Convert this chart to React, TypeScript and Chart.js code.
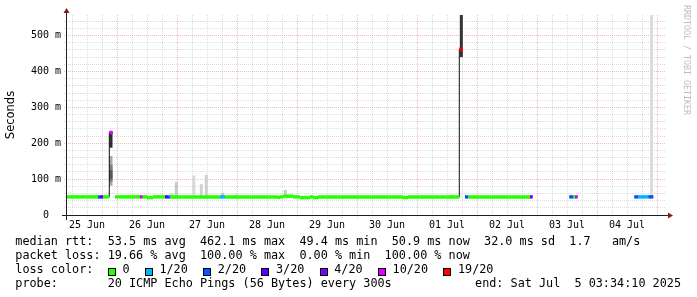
import React, { useEffect, useRef } from 'react';
import { Chart, registerables } from 'chart.js';

Chart.register(...registerables);

// ---- time axis (hours since 25 Jun 00:00) ----
const startHour = 3.57; // Jun 25 03:34
const endHour = 243.57; // Jul 5 03:34
const dayLabels = ['25 Jun', '26 Jun', '27 Jun', '28 Jun', '29 Jun', '30 Jun', '01 Jul', '02 Jul', '03 Jul', '04 Jul'];

// ---- value axis (milliseconds) ----
const yMax = 557.5;
const yTickValues = [0, 100, 200, 300, 400, 500];
const yTickLabels = ['0  ', '100 m', '200 m', '300 m', '400 m', '500 m'];

// ---- loss colours ----
const lossLabels = ['0', '1/20', '2/20', '3/20', '4/20', '10/20', '19/20'];
const lossColors = ['#26ff00', '#00b8ff', '#0059ff', '#5e00ff', '#7e00ff', '#dd00ff', '#ff0000'];

// ---- median rtt segments (hours, ms, loss level index) ----
const medianStart = [3.57, 16.37, 17.17, 18.37, 20.89, 23.17, 33.17, 34.25, 35.97, 38.37, 43.17, 44.37, 45.17, 65.17, 67.17, 88.37, 89.0, 90.37, 94.37, 97.17, 101.17, 102.37, 104.37, 138.37, 140.37, 160.89, 163.17, 164.49, 189.17, 204.89, 206.49, 207.17, 230.89, 232.49, 236.49];
const medianEnd = [16.37, 17.17, 18.37, 20.89, 22.25, 33.17, 34.25, 35.97, 38.37, 43.17, 44.37, 45.17, 65.17, 67.17, 88.37, 89.0, 90.37, 94.37, 97.17, 101.17, 102.37, 104.37, 138.37, 140.37, 160.89, 162.25, 164.49, 189.17, 190.25, 206.49, 207.17, 208.25, 232.49, 236.49, 238.49];
const medianMs = [50.5, 50.5, 50.5, 50.5, 230, 50.5, 50.5, 50.5, 48.5, 50.5, 50.5, 50.5, 50.5, 50.5, 50.5, 48.5, 50.5, 52.5, 50.5, 48.5, 50.5, 48.5, 50.5, 48.5, 50.5, 462.1, 50.5, 50.5, 50.5, 50.5, 50.5, 50.5, 50.5, 50.5, 50.5];
const medianLoss = [0, 2, 3, 0, 5, 0, 5, 0, 0, 0, 3, 2, 0, 1, 0, 0, 0, 0, 0, 0, 0, 0, 0, 0, 0, 6, 2, 0, 4, 2, 0, 5, 2, 1, 2];

// ---- smoke (ping spread) columns ----
const smokeHour = [21.57, 21.57, 21.57, 21.57, 45.7, 47.7, 54.7, 57.7, 59.7, 66.2, 71.6, 91.3, 157.7, 161.7, 237.8];
const smokeLow = [81.7, 92, 100, 187.6, 50, 50, 50, 50, 50, 50, 50, 50, 50, 440, 52];
const smokeHigh = [164.5, 140, 125, 230.6, 61, 92, 110, 86, 112, 62, 58, 70, 56, 557.5, 557.5];
const smokeShade = ['#a8a8a8', '#808080', '#5a5a5a', '#2e2e2e', '#d4d4d4', '#c8c8c8', '#d8d8d8', '#d0d0d0', '#d0d0d0', '#c4c4c4', '#dcdcdc', '#c8c8c8', '#bbbbbb', '#333333', '#dcdcdc'];

// ---- legend texts ----
const statsLine = 'median rtt:  53.5 ms avg  462.1 ms max  49.4 ms min  50.9 ms now  32.0 ms sd  1.7   am/s';
const lossLine = 'packet loss: 19.66 % avg  100.00 % max  0.00 % min  100.00 % now';
const colorTitle = 'loss color:';
const probeLine = 'probe:       20 ICMP Echo Pings (56 Bytes) every 300s';
const endLine = 'end: Sat Jul  5 03:34:10 2025';
const watermark = 'RRDTOOL / TOBI OETIKER';
const yTitle = 'Seconds';

const MINOR = 'rgba(150,150,150,0.32)';
const MAJOR = 'rgba(215,80,80,0.38)';
const MONO = 'DejaVu Sans Mono';

const axesPlugin = {
  id: 'rrdAxes',
  afterDraw(chart: any) {
    const { ctx, chartArea } = chart;
    const { left, right, top, bottom } = chartArea;
    ctx.save();
    ctx.strokeStyle = '#1f1f1f';
    ctx.lineWidth = 1;
    ctx.beginPath();
    ctx.moveTo(left - 4, bottom + 0.5);
    ctx.lineTo(right + 2, bottom + 0.5);
    ctx.stroke();
    ctx.beginPath();
    ctx.moveTo(left + 0.5, bottom + 5);
    ctx.lineTo(left + 0.5, top - 2);
    ctx.stroke();
    ctx.fillStyle = '#801f1f';
    ctx.beginPath();
    ctx.moveTo(right + 2, bottom + 0.5 - 3);
    ctx.lineTo(right + 2, bottom + 0.5 + 3);
    ctx.lineTo(right + 7, bottom + 0.5);
    ctx.closePath();
    ctx.fill();
    ctx.beginPath();
    ctx.moveTo(left + 0.5 - 3, top - 2);
    ctx.lineTo(left + 0.5 + 3, top - 2);
    ctx.lineTo(left + 0.5, top - 7);
    ctx.closePath();
    ctx.fill();
    ctx.restore();
  },
};

export default function App() {
  const ref = useRef<HTMLCanvasElement | null>(null);

  useEffect(() => {
    if (!ref.current) return;

    const bandPoints: any[] = [];
    medianStart.forEach((s, i) => {
      bandPoints.push({ x: s, y: medianMs[i] }, { x: medianEnd[i], y: medianMs[i] }, { x: medianEnd[i], y: null });
    });

    const linePoints: any[] = [];
    medianStart.forEach((s, i) => {
      if (i > 0 && Math.abs(s - medianEnd[i - 1]) > 1e-6) {
        linePoints.push({ x: medianEnd[i - 1], y: medianMs[i - 1] });
        linePoints.push({ x: (medianEnd[i - 1] + s) / 2, y: null });
      }
      linePoints.push({ x: s, y: medianMs[i] });
    });
    const last = medianStart.length - 1;
    linePoints.push({ x: medianEnd[last], y: medianMs[last] });

    const smokePoints = smokeHour.map((h, i) => ({ x: h, y: [smokeLow[i], smokeHigh[i]] }));

    const xGrid: number[] = [];
    for (let h = Math.ceil(startHour / 6) * 6; h <= endHour; h += 6) xGrid.push(h);
    const yGrid: number[] = [];
    for (let v = 0; v <= yMax; v += 20) yGrid.push(v);

    const chart = new Chart(ref.current, {
      type: 'line',
      data: {
        datasets: [
          {
            type: 'bar',
            data: smokePoints as any,
            backgroundColor: smokeShade,
            borderWidth: 0,
            barThickness: 3,
            grouped: false,
            inflateAmount: 0,
            order: 3,
          } as any,
          {
            type: 'line',
            data: linePoints,
            borderColor: '#111111',
            borderWidth: 1,
            pointRadius: 0,
            stepped: true,
            spanGaps: false,
            order: 2,
          } as any,
          {
            type: 'line',
            data: bandPoints,
            borderWidth: 3.5,
            borderCapStyle: 'butt',
            pointRadius: 0,
            spanGaps: false,
            borderColor: lossColors[0],
            segment: {
              borderColor: (c: any) => lossColors[medianLoss[Math.floor(c.p0DataIndex / 3)]],
            },
            order: 1,
          } as any,
        ],
      },
      options: {
        animation: false,
        responsive: false,
        devicePixelRatio: 1,
        events: [],
        layout: { autoPadding: false, padding: { left: 0, right: 31, top: 15, bottom: 0 } },
        plugins: { legend: { display: false }, tooltip: { enabled: false }, title: { display: false } },
        scales: {
          x: {
            type: 'linear',
            min: startHour,
            max: endHour,
            offset: false,
            afterBuildTicks: (s: any) => {
              s.ticks = xGrid.map((v) => ({ value: v }));
            },
            afterFit: (s: any) => {
              s.height = 82;
            },
            ticks: {
              autoSkip: false,
              maxRotation: 0,
              minRotation: 0,
              padding: 1,
              color: '#000',
              font: { family: MONO, size: 10 },
              callback: (v: any) => (v % 24 === 12 ? dayLabels[(v - 12) / 24] : ''),
            },
            grid: {
              offset: false,
              lineWidth: 1,
              color: (c: any) => (c.tick && c.tick.value % 24 === 0 ? MAJOR : MINOR),
              drawTicks: true,
              tickLength: 3,
              tickColor: (c: any) => (c.tick && c.tick.value % 24 === 0 ? MAJOR : MINOR),
              tickBorderDash: [1, 1],
            },
            border: { display: false, dash: [1, 1] },
          },
          y: {
            type: 'linear',
            min: 0,
            max: yMax,
            afterBuildTicks: (s: any) => {
              s.ticks = yGrid.map((v) => ({ value: v }));
            },
            afterFit: (s: any) => {
              s.width = 66;
            },
            ticks: {
              autoSkip: false,
              padding: 3,
              color: '#000',
              font: { family: MONO, size: 10 },
              callback: (v: any) => {
                const i = yTickValues.indexOf(v);
                return i >= 0 ? yTickLabels[i] : '';
              },
            },
            grid: {
              lineWidth: 1,
              color: (c: any) => (c.tick && c.tick.value % 100 === 0 ? MAJOR : MINOR),
              drawTicks: true,
              tickLength: 2,
              tickColor: (c: any) => (c.tick && c.tick.value % 100 === 0 ? MAJOR : MINOR),
              tickBorderDash: [1, 1],
            },
            border: { display: false, dash: [1, 1] },
            title: {
              display: true,
              text: yTitle,
              color: '#000',
              font: { family: 'DejaVu Sans', size: 11.5 },
              padding: { top: 4.3, bottom: 0 },
            },
          },
        },
      } as any,
      plugins: [axesPlugin],
    });
    return () => chart.destroy();
  }, []);

  const legendFont: React.CSSProperties = {
    position: 'absolute',
    fontFamily: MONO,
    fontSize: '11.8px',
    lineHeight: '14px',
    height: 14,
    whiteSpace: 'pre',
    color: '#000',
  };

  // loss colour legend items laid out in a row
  const charW = 7.12;
  let cx = 108;
  const items = lossLabels.map((lab, i) => {
    const sq = cx;
    const tx = sq + 8 + 6.5;
    cx = tx + lab.length * charW + 15.3;
    return { lab, color: lossColors[i], sq, tx };
  });

  return (
    <div style={{ position: 'absolute', left: 0, top: 0, width: 697, height: 297, background: '#fff', overflow: 'hidden' }}>
      <canvas ref={ref} width={697} height={297} style={{ position: 'absolute', left: 0, top: 0, width: 697, height: 297 }} />
      <div
        style={{
          position: 'absolute',
          left: 681.5,
          top: 5,
          width: 10,
          writingMode: 'vertical-rl',
          fontFamily: MONO,
          fontSize: '8.3px',
          lineHeight: '10px',
          color: '#bdbdbd',
          whiteSpace: 'pre',
        }}
      >
        {watermark}
      </div>
      <div style={{ ...legendFont, left: 15.3, top: 234 }}>{statsLine}</div>
      <div style={{ ...legendFont, left: 15.3, top: 248 }}>{lossLine}</div>
      <div style={{ ...legendFont, left: 15.3, top: 262 }}>{colorTitle}</div>
      {items.map((it) => (
        <React.Fragment key={it.lab}>
          <div
            style={{
              position: 'absolute',
              left: it.sq,
              top: 267.5,
              width: 8,
              height: 8,
              boxSizing: 'border-box',
              border: '1px solid #000',
              background: it.color,
            }}
          />
          <div style={{ ...legendFont, left: it.tx, top: 262 }}>{it.lab}</div>
        </React.Fragment>
      ))}
      <div style={{ ...legendFont, left: 15.3, top: 276 }}>{probeLine}</div>
      <div style={{ ...legendFont, right: 16, top: 276 }}>{endLine}</div>
    </div>
  );
}
